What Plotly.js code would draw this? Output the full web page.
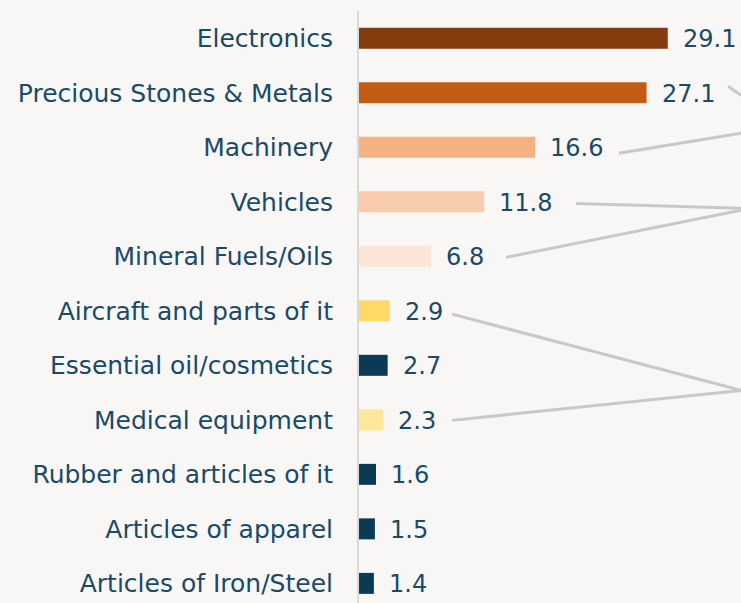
<!DOCTYPE html>
<html>
<head>
<meta charset="utf-8">
<script src="https://cdn.plot.ly/plotly-3.0.1.min.js"></script>
<style>html,body{margin:0;padding:0;background:#f8f7f6;}#chart{width:741px;height:603px;}</style>
</head>
<body>
<div id="chart"></div>
<script>
const categories = ["Electronics","Precious Stones & Metals","Machinery","Vehicles","Mineral Fuels/Oils","Aircraft and parts of it","Essential oil/cosmetics","Medical equipment","Rubber and articles of it","Articles of apparel","Articles of Iron/Steel"];
const values = [29.1,27.1,16.6,11.8,6.8,2.9,2.7,2.3,1.6,1.5,1.4];
const barColors = ["#843c0c","#c55a11","#f4b183","#f8cbad","#fbe5d6","#ffd966","#0a3a55","#ffe699","#0a3a55","#0a3a55","#0a3a55"];
const valueLabels = values.map(v => v.toFixed(1));
// connector lines: [startX, startRow, endX, endRow]
const connectors = [
  [34.78, 0.88, 36, 1.046],
  [24.5, 2.11, 36, 1.743],
  [20.45, 3.03, 36, 3.12],
  [13.85, 4.02, 36, 3.156],
  [8.77, 5.06, 36, 6.46],
  [8.77, 7.01, 36, 6.46]
];
const idx = categories.map((c,i)=>i);
const textColor = "#1a4a66";
const font = "'DejaVu Sans', sans-serif";

const trace = {
  type: "bar", orientation: "h",
  x: values, y: idx,
  width: 0.385,
  marker: {color: barColors},
  hoverinfo: "skip"
};
const annotations = values.map((v,i)=>({
  x: v, y: i, xref: "x", yref: "y", text: valueLabels[i],
  showarrow: false, xanchor: "left", yanchor: "middle", xshift: 13, yshift: -1,
  font: {family: font, size: 24, color: textColor}
}));
const shapes = connectors.map(c=>({
  type: "line", xref: "x", yref: "y", x0: c[0], y0: c[1], x1: c[2], y1: c[3],
  line: {color: "#c8c8c8", width: 3}, layer: "below"
}));
const layout = {
  width: 741, height: 603,
  margin: {l: 359, r: 0, t: 11, b: 0, pad: 0},
  paper_bgcolor: "#f8f7f6", plot_bgcolor: "#f8f7f6",
  showlegend: false,
  xaxis: {range: [0, 36], visible: false, fixedrange: true},
  yaxis: {range: [10.36, -0.5], tickvals: idx, ticktext: categories, showgrid: false, zeroline: false,
          showline: true, linecolor: "#d9d9d9", linewidth: 2, ticks: "", ticklabelstandoff: 19,
          tickfont: {family: font, size: 25, color: textColor}},
  annotations: annotations,
  shapes: shapes
};
Plotly.newPlot("chart", [trace], layout, {displayModeBar: false, staticPlot: true});
</script>
</body>
</html>
